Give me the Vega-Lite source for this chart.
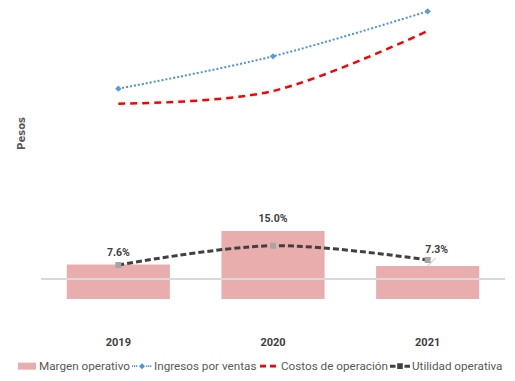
{
  "$schema": "https://vega.github.io/schema/vega-lite/v6.json",
  "width": 464,
  "height": 315,
  "autosize": {"type": "none"},
  "padding": {"left": 41, "top": 5, "right": 10, "bottom": 61},
  "background": "#ffffff",
  "config": {"view": {"stroke": null}},
  "data": {
    "values": [
      {"anio": "2019", "serie": "Margen operativo", "valor": 0.076},
      {"anio": "2020", "serie": "Margen operativo", "valor": 0.150},
      {"anio": "2021", "serie": "Margen operativo", "valor": 0.073},
      {"anio": "2019", "serie": "Ingresos por ventas", "valor": 190.3},
      {"anio": "2020", "serie": "Ingresos por ventas", "valor": 222.7},
      {"anio": "2021", "serie": "Ingresos por ventas", "valor": 267.7},
      {"anio": "2019", "serie": "Costos de operación", "valor": 175.3},
      {"anio": "2020", "serie": "Costos de operación", "valor": 188.0},
      {"anio": "2021", "serie": "Costos de operación", "valor": 248.0},
      {"anio": "2019", "serie": "Utilidad operativa", "valor": 14.0},
      {"anio": "2020", "serie": "Utilidad operativa", "valor": 33.3},
      {"anio": "2021", "serie": "Utilidad operativa", "valor": 19.0}
    ]
  },
  "layer": [
    {
      "transform": [{"filter": "datum.serie === 'Margen operativo'"}],
      "encoding": {
        "x": {
          "field": "anio", "type": "nominal", "sort": ["2019", "2020", "2021"],
          "scale": {"paddingInner": 0.3333, "paddingOuter": 0.1667},
          "axis": {"title": null, "domain": false, "ticks": false, "grid": false, "labelAngle": 0,
                   "labelFont": "Roboto", "labelFontWeight": "bold", "labelFontSize": 11,
                   "labelColor": "#404040", "labelPadding": 16}
        },
        "y": {"field": "valor", "type": "quantitative",
              "scale": {"domain": [-0.0463, 0.6485], "nice": false, "zero": false}, "axis": null}
      },
      "layer": [
        {
          "mark": {"type": "bar", "color": "#EAADAD"},
          "encoding": {
            "color": {
              "field": "serie", "type": "nominal",
              "scale": {"domain": ["Margen operativo", "Ingresos por ventas", "Costos de operación", "Utilidad operativa"],
                        "range": ["#EAADAD", "#4D93D9", "#FF0000", "#404040"]},
              "legend": {
                "title": null, "orient": "none", "direction": "horizontal", "legendX": -24, "legendY": 351,
                "labelFont": "Roboto", "labelFontSize": 11.7, "labelColor": "#595959",
                "symbolSize": 400, "labelOffset": 2, "columnPadding": 2,
                "encode": {
                  "symbols": {
                    "update": {
                      "shape": {"signal": "datum.value === 'Margen operativo' ? 'M-0.9,-0.35H0.9V0.35H-0.9Z' : datum.value === 'Ingresos por ventas' ? 'M-1,-0.08h0.12v0.16h-0.12Z M-0.8,-0.08h0.12v0.16h-0.12Z M-0.6,-0.08h0.12v0.16h-0.12Z M0.42,-0.08h0.12v0.16h-0.12Z M0.62,-0.08h0.12v0.16h-0.12Z M0.82,-0.08h0.12v0.16h-0.12Z M0,-0.3L0.3,0L0,0.3L-0.3,0Z' : datum.value === 'Costos de operación' ? 'M-0.9,-0.13H-0.3V0.13H-0.9Z M0.1,-0.13H0.7V0.13H0.1Z' : 'M-1,-0.15H-0.45V0.15H-1Z M-0.28,-0.28H0.28V0.28H-0.28Z M0.45,-0.15H1V0.15H0.45Z'"},
                      "fill": {"scale": "color", "field": "value"},
                      "strokeWidth": {"value": 0},
                      "opacity": {"value": 1}
                    }
                  }
                }
              }
            }
          }
        },
        {
          "transform": [{"filter": "datum.anio !== '2021'"}],
          "mark": {"type": "text", "dy": -12, "font": "Roboto", "fontWeight": "bold", "fontSize": 10.5, "color": "#404040"},
          "encoding": {"text": {"field": "valor", "type": "quantitative", "format": ".1%"}}
        },
        {
          "transform": [{"filter": "datum.anio === '2021'"}],
          "mark": {"type": "text", "dy": -16, "dx": 9, "font": "Roboto", "fontWeight": "bold", "fontSize": 10.5, "color": "#404040"},
          "encoding": {"text": {"field": "valor", "type": "quantitative", "format": ".1%"}}
        },
        {
          "transform": [{"filter": "datum.anio === '2021'"}],
          "mark": {"type": "rule", "color": "#A6A6A6", "strokeWidth": 0.8, "x2Offset": 8, "y2Offset": -8},
          "encoding": {
            "x2": {"field": "anio"},
            "y2": {"field": "valor"}
          }
        }
      ]
    },
    {
      "encoding": {
        "y": {"field": "valor", "type": "quantitative",
              "scale": {"domain": [-41, 274], "nice": false, "zero": false}, "axis": {"title": "Pesos", "labels": false, "ticks": false, "domain": false, "grid": false,
              "titleFont": "DejaVu Sans", "titleFontWeight": "bold", "titleFontSize": 10, "titleColor": "#595959",
              "titleX": -20, "titleY": 128, "titleBaseline": "middle"}}
      },
      "layer": [
        {
          "mark": {"type": "rule", "color": "#D9D9D9", "strokeWidth": 1},
          "encoding": {"y": {"datum": 0}}
        },
        {
          "transform": [{"filter": "datum.serie === 'Ingresos por ventas'"}],
          "mark": {"type": "line", "strokeWidth": 2, "strokeDash": [2, 2], "interpolate": "cardinal"},
          "encoding": {
            "x": {"field": "anio", "type": "nominal", "sort": ["2019", "2020", "2021"]},
            "color": {"field": "serie", "type": "nominal"}
          }
        },
        {
          "transform": [{"filter": "datum.serie === 'Costos de operación'"}],
          "mark": {"type": "line", "strokeWidth": 2.5, "strokeDash": [7, 5], "interpolate": "cardinal"},
          "encoding": {
            "x": {"field": "anio", "type": "nominal", "sort": ["2019", "2020", "2021"]},
            "color": {"field": "serie", "type": "nominal"}
          }
        },
        {
          "transform": [{"filter": "datum.serie === 'Utilidad operativa'"}],
          "mark": {"type": "line", "strokeWidth": 3, "strokeDash": [6, 3], "interpolate": "cardinal"},
          "encoding": {
            "x": {"field": "anio", "type": "nominal", "sort": ["2019", "2020", "2021"]},
            "color": {"field": "serie", "type": "nominal"}
          }
        },
        {
          "transform": [{"filter": "datum.serie === 'Ingresos por ventas'"}],
          "mark": {"type": "point", "shape": "diamond", "filled": true, "size": 40, "color": "#5B9BD5", "opacity": 1},
          "encoding": {
            "x": {"field": "anio", "type": "nominal", "sort": ["2019", "2020", "2021"]}
          }
        },
        {
          "transform": [{"filter": "datum.serie === 'Utilidad operativa'"}],
          "mark": {"type": "point", "shape": "square", "filled": true, "size": 36, "color": "#A5A5A5", "opacity": 1},
          "encoding": {
            "x": {"field": "anio", "type": "nominal", "sort": ["2019", "2020", "2021"]}
          }
        }
      ]
    }
  ],
  "resolve": {"scale": {"y": "independent"}, "axis": {"y": "independent"}}
}
